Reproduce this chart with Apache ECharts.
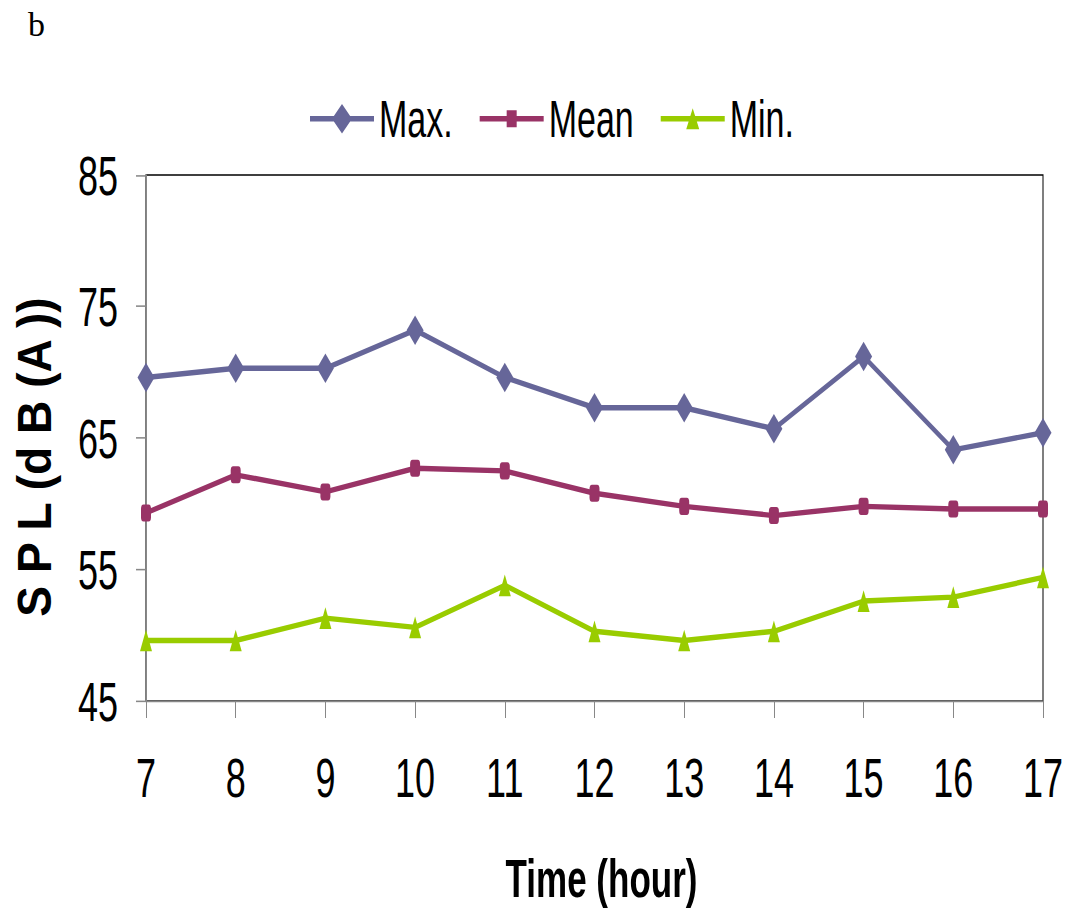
<!DOCTYPE html>
<html>
<head>
<meta charset="utf-8">
<script src="https://cdn.jsdelivr.net/npm/echarts@6/dist/echarts.min.js"></script>
<style>
html,body{margin:0;padding:0;background:#fff;overflow:hidden;width:1068px;height:916px;}
#c{position:absolute;left:0;top:0;width:1068px;transform-origin:0 0;}
</style>
</head>
<body>
<div id="c"></div>
<script>
// Data
const hours = ['7','8','9','10','11','12','13','14','15','16','17'];
const maxVals  = [69.6, 70.3, 70.3, 73.2, 69.6, 67.3, 67.3, 65.7, 71.2, 64.1, 65.4];
const meanVals = [59.3, 62.2, 60.9, 62.7, 62.5, 60.8, 59.8, 59.1, 59.8, 59.6, 59.6];
const minVals  = [49.6, 49.6, 51.3, 50.6, 53.8, 50.3, 49.6, 50.3, 52.6, 52.9, 54.4];
const seriesNames = ['Max.', 'Mean', 'Min.'];

const S = 1.55; // vertical stretch of the original picture
const H = 916 / S;
const el = document.getElementById('c');
el.style.height = H + 'px';
el.style.transform = 'scaleY(' + S + ')';

const NARROW = "'Liberation Sans Narrow','Arial Narrow','Liberation Sans',sans-serif";
const chart = echarts.init(el, null, {renderer: 'svg', width: 1068, height: H});

// legend icons: line + marker (box 64 x 24)
const bounds = ' M0,0 L0.01,0 L0,0.01 Z M64,24 L63.99,24 L64,23.99 Z';
const lineRect = 'M0,10.25 L64,10.25 L64,13.75 L0,13.75 Z';
const icons = [
  'path://' + lineRect + ' M32,2.5 L42,12 L32,21.5 L22,12 Z' + bounds,
  'path://' + lineRect + ' M27,6.5 L37,6.5 L37,17.5 L27,17.5 Z' + bounds,
  'path://' + lineRect + ' M32,5.2 L38.5,18.8 L25.5,18.8 Z' + bounds
];

function mk(name, data, color, symbol, size) {
  return {
    name: name, type: 'line', data: data,
    symbol: symbol, symbolSize: size, showAllSymbol: true,
    lineStyle: {color: color, width: 3.5},
    itemStyle: {color: color},
    emphasis: {disabled: true},
    animation: false
  };
}

chart.setOption({
  animation: false,
  backgroundColor: '#fff',
  grid: {
    left: 146, right: 1068 - 1043, top: 175 / S, bottom: (916 - 701) / S,
    show: true, borderColor: '#000', borderWidth: 1, backgroundColor: 'transparent'
  },
  legend: {
    data: seriesNames.map((n, i) => ({name: n, icon: icons[i]})),
    top: 111 / S - 17, left: 305,
    itemWidth: 64, itemHeight: 24, itemGap: 27,
    itemStyle: {borderWidth: 0},
    textStyle: {fontFamily: NARROW, fontSize: 34, color: '#000'}
  },
  xAxis: {
    type: 'category', data: hours, boundaryGap: false,
    axisLine: {lineStyle: {color: '#888', width: 1}},
    axisTick: {length: 11, lineStyle: {color: '#888'}},
    axisLabel: {fontFamily: NARROW, fontSize: 36, color: '#000', margin: 31},
    splitLine: {show: false},
    name: 'Time (hour)', nameLocation: 'middle', nameGap: 97,
    nameTextStyle: {fontFamily: NARROW, fontSize: 35, fontWeight: 'bold', color: '#000',
                    padding: [0, 0, 0, 14]}
  },
  yAxis: {
    type: 'value', min: 45, max: 85, interval: 10,
    axisLine: {show: true, lineStyle: {color: '#888', width: 1}},
    axisTick: {show: true, length: 10, lineStyle: {color: '#888'}},
    axisLabel: {fontFamily: NARROW, fontSize: 36, color: '#000', margin: 28},
    splitLine: {show: false}
  },
  graphic: [
    {
      type: 'text', x: 34, y: 457 / S, rotation: Math.PI / 2, scaleX: 0.62,
      style: {text: 'S P L (d B (A ))', fontFamily: NARROW, fontSize: 48, fontWeight: 'bold',
              fill: '#000', align: 'center', verticalAlign: 'middle'}
    },
    {
      type: 'text', x: 28, y: 25 / S, scaleY: 1 / S,
      style: {text: 'b', fontFamily: "'Liberation Serif','Times New Roman',serif", fontSize: 34,
              fill: '#000', align: 'left', verticalAlign: 'middle'}
    }
  ],
  series: [
    mk(seriesNames[0], maxVals, '#666699', 'diamond', [17, 19]),
    mk(seriesNames[1], meanVals, '#993366', 'roundRect', [10, 11]),
    mk(seriesNames[2], minVals, '#99CC00', 'triangle', [12, 14])
  ]
});
</script>
</body>
</html>
